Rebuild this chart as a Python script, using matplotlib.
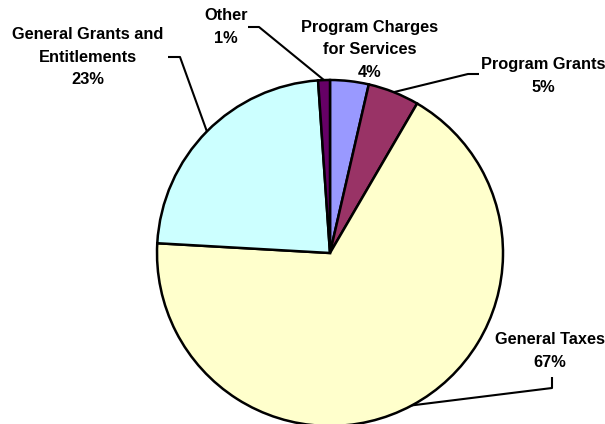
import numpy as np
import matplotlib.pyplot as plt

# slices, clockwise from 12 o'clock
names = ["Program Charges\nfor Services", "Program Grants", "General Taxes",
         "General Grants and\nEntitlements", "Other"]
values = [3.6, 4.8, 67.5, 23.0, 1.1]
pct_labels = ["4%", "5%", "67%", "23%", "1%"]
colors = ["#9999FF", "#993366", "#FFFFCC", "#CCFFFF", "#660066"]

W, H = 605, 424


def py(y):
    # pixel row -> data y
    return H - y


fig = plt.figure(figsize=(W / 100, H / 100), dpi=100)
ax = fig.add_axes([0, 0, 1, 1])
ax.set_xlim(0, W)
ax.set_ylim(0, H)
ax.set_aspect("equal")
ax.axis("off")

center = (330, py(253))
radius = 173
wedges, _ = ax.pie(values, center=center, radius=radius, startangle=90,
                   counterclock=False, colors=colors,
                   wedgeprops=dict(edgecolor="black", linewidth=1.8))
ax.set_xlim(0, W)
ax.set_ylim(0, H)

# label block centre (px), leader elbow, leader end  (None = no leader)
layout = [
    ((370, 50), None, None),
    ((543, 76), (468, 74), (479, 74)),
    ((550, 351), (552, 388), (552, 377)),
    ((88, 57), (180, 57), (168, 57)),
    ((226, 27), (259, 27), (248, 27)),
]

font = dict(family="Liberation Sans", weight="bold", size=11.8)
for w, name, pct, (pos, elbow, end) in zip(wedges, names, pct_labels, layout):
    ax.text(pos[0], py(pos[1]), name + "\n" + pct, ha="center", va="center",
            linespacing=1.6, **font)
    if elbow is not None:
        mid = np.deg2rad((w.theta1 + w.theta2) / 2)
        x0 = center[0] + radius * np.cos(mid)
        y0 = center[1] + radius * np.sin(mid)
        ax.plot([x0, elbow[0], end[0]], [y0, py(elbow[1]), py(end[1])],
                color="black", lw=1.5, solid_capstyle="butt")

fig.savefig("out.png", dpi=100)
